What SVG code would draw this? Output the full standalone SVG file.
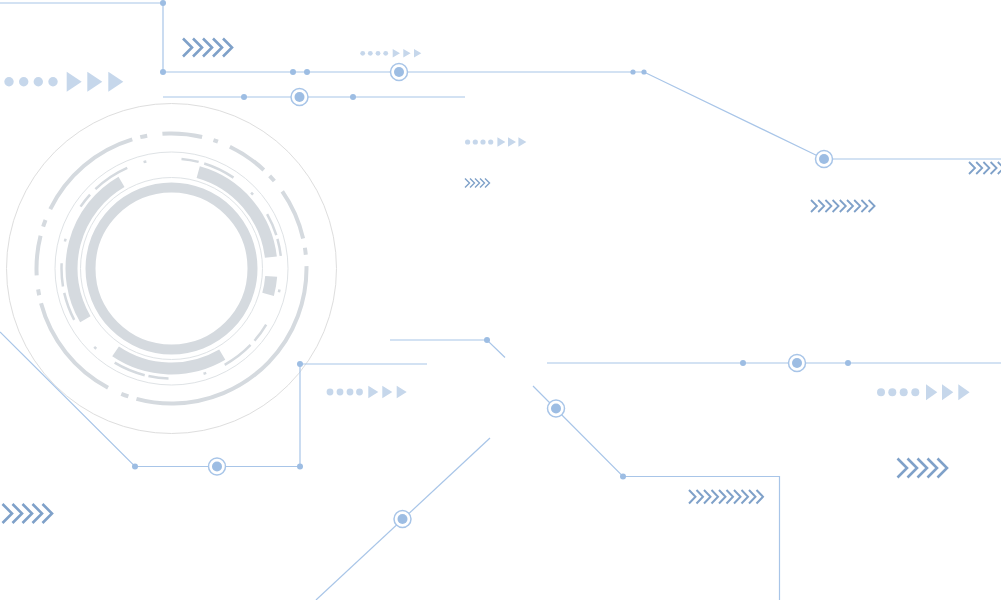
<svg xmlns="http://www.w3.org/2000/svg" xmlns:xlink="http://www.w3.org/1999/xlink" width="1001" height="600" viewBox="0 0 1001 600">
<style>
.ln{fill:none;stroke:#a8c5e8;stroke-width:1.2}
.dot{fill:#9dbde3}
.ringo{fill:#fff;stroke:#a8c5e8;stroke-width:1.5}
.chev{fill:none;stroke:#7fa1c9;stroke-linejoin:miter}
.pale{fill:#c6d7eb}
.gr{fill:none;stroke:#d5dadf}
.thin{fill:none;stroke:#dfe3e6;stroke-width:1}
</style>
<defs>
<g id="ringnode"><circle class="ringo" cx="0" cy="0" r="8.5"/><circle class="dot" cx="0" cy="0" r="5"/></g>
</defs>
<rect width="1001" height="600" fill="#fff"/>

<g id="dial">
<circle cx="171.5" cy="268.5" r="165" fill="none" stroke="#dedede" stroke-width="1"/>
<circle class="gr" cx="171.5" cy="268.5" r="135" stroke-width="4" transform="rotate(-1 171.5 268.5)" stroke-dasharray="249.76 8.48 7.54 14.61 110.74 8.25 5.89 14.14 40.06 9.42 7.07 11.78 110.74 8.25 7.07 15.32 40.06 11.78 4.71 12.96 41.23 8.25 7.07 12.96 51.84 9.42 7.07 11.78"/>
<circle class="thin" cx="171.5" cy="268.5" r="116.5"/>
<circle class="gr" cx="171.5" cy="268.5" r="110" stroke-width="2.5" stroke-dasharray="0 21.12 2.88 34.75 19.97 5.76 32.64 20.16 2.88 35.52 20.16 3.84 32.64 23.04 2.88 33.6 28.8 6.53 23.42 21.89 2.88 35.52 15.36 7.68 38.4 17.28 2.88 35.52 17.28 5.76 32.64 23.04 2.88 24 23.04 3.84 17.28 13.44"/>
<g class="gr" stroke-width="12">
<path d="M85.34 319.25A100 100 0 0 1 121.5 181.9"/>
<path d="M198.22 172.14A100 100 0 0 1 270.86 257.18"/>
<path d="M271.19 276.35A100 100 0 0 1 268.09 294.38"/>
<path d="M222.25 354.66A100 100 0 0 1 115.58 351.4"/>
</g>
<circle class="thin" cx="171.5" cy="268.5" r="91"/>
<circle class="gr" cx="171.5" cy="268.5" r="81" stroke-width="10"/>
</g>

<g id="connectors">
<path class="ln" d="M0 3H163V72H644L824 159H1001"/>
<path class="ln" d="M163 97H465"/>
<path class="ln" d="M547 363H1001"/>
<path class="ln" d="M390 340H487L505 357.5"/>
<path class="ln" d="M533 386L623 476.5H779.5V600"/>
<path class="ln" d="M490 438L316 600"/>
<path class="ln" d="M0 332L135 466.5H300V364H427"/>
</g>

<g id="junctions" class="dot">
<circle cx="163" cy="3" r="3"/>
<circle cx="163" cy="72" r="3"/>
<circle cx="293" cy="72" r="3"/>
<circle cx="307" cy="72" r="3"/>
<circle cx="633" cy="72" r="2.6"/>
<circle cx="644" cy="72" r="2.6"/>
<circle cx="244" cy="97" r="3"/>
<circle cx="353" cy="97" r="3"/>
<circle cx="743" cy="363" r="3"/>
<circle cx="848" cy="363" r="3"/>
<circle cx="487" cy="340" r="3"/>
<circle cx="623" cy="476.5" r="3"/>
<circle cx="135" cy="466.5" r="3"/>
<circle cx="300" cy="466.5" r="3"/>
<circle cx="300" cy="364" r="3"/>
</g>

<g id="node-1"><use xlink:href="#ringnode" href="#ringnode" x="399" y="72"/></g>
<g id="node-2"><use xlink:href="#ringnode" href="#ringnode" x="299.5" y="97"/></g>
<g id="node-3"><use xlink:href="#ringnode" href="#ringnode" x="824" y="159"/></g>
<g id="node-4"><use xlink:href="#ringnode" href="#ringnode" x="797" y="363"/></g>
<g id="node-5"><use xlink:href="#ringnode" href="#ringnode" x="556" y="408.5"/></g>
<g id="node-6"><use xlink:href="#ringnode" href="#ringnode" x="402.5" y="519"/></g>
<g id="node-7"><use xlink:href="#ringnode" href="#ringnode" x="217" y="466.5"/></g>

<g id="chevrons" class="chev">
<path stroke-width="2.6" d="M183 38.5l9 9l-9 9M193 38.5l9 9l-9 9M203 38.5l9 9l-9 9M213 38.5l9 9l-9 9M223 38.5l9 9l-9 9"/>
<path stroke-width="1.4" d="M465 178.5l4.5 4.5l-4.5 4.5M470 178.5l4.5 4.5l-4.5 4.5M475 178.5l4.5 4.5l-4.5 4.5M480 178.5l4.5 4.5l-4.5 4.5M485 178.5l4.5 4.5l-4.5 4.5"/>
<path stroke-width="1.8" d="M811 200l6 6l-6 6M818.2 200l6 6l-6 6M825.4 200l6 6l-6 6M832.6 200l6 6l-6 6M839.8 200l6 6l-6 6M847 200l6 6l-6 6M854.2 200l6 6l-6 6M861.4 200l6 6l-6 6M868.6 200l6 6l-6 6"/>
<path stroke-width="1.8" d="M969 162l6 6l-6 6M976.2 162l6 6l-6 6M983.4 162l6 6l-6 6M990.6 162l6 6l-6 6M997.8 162l6 6l-6 6"/>
<path stroke-width="2" d="M689 490l6.5 6.75l-6.5 6.75M696.5 490l6.5 6.75l-6.5 6.75M704 490l6.5 6.75l-6.5 6.75M711.5 490l6.5 6.75l-6.5 6.75M719 490l6.5 6.75l-6.5 6.75M726.5 490l6.5 6.75l-6.5 6.75M734 490l6.5 6.75l-6.5 6.75M741.5 490l6.5 6.75l-6.5 6.75M749 490l6.5 6.75l-6.5 6.75M756.5 490l6.5 6.75l-6.5 6.75"/>
<path stroke-width="2.6" d="M897.5 458.5l9.5 9.5l-9.5 9.5M907.5 458.5l9.5 9.5l-9.5 9.5M917.5 458.5l9.5 9.5l-9.5 9.5M927.5 458.5l9.5 9.5l-9.5 9.5M937.5 458.5l9.5 9.5l-9.5 9.5"/>
<path stroke-width="2.6" d="M2.5 504l9.5 9.5l-9.5 9.5M12.5 504l9.5 9.5l-9.5 9.5M22.5 504l9.5 9.5l-9.5 9.5M32.5 504l9.5 9.5l-9.5 9.5M42.5 504l9.5 9.5l-9.5 9.5"/>
</g>

<g id="pointers" class="pale">
<g id="ptr-left">
<circle cx="9" cy="81.7" r="4.7"/><circle cx="23.7" cy="81.7" r="4.7"/><circle cx="38.3" cy="81.7" r="4.7"/><circle cx="53" cy="81.7" r="4.7"/>
<path d="M66.7 71.7L81.7 81.7L66.7 91.7ZM87.3 71.7L102.3 81.7L87.3 91.7ZM108.3 71.7L123.3 81.7L108.3 91.7Z"/>
</g>
<g id="ptr-top">
<circle cx="362.7" cy="53.3" r="2.4"/><circle cx="370.3" cy="53.3" r="2.4"/><circle cx="378" cy="53.3" r="2.4"/><circle cx="385.7" cy="53.3" r="2.4"/>
<path d="M392.7 49L400 53.3L392.7 57.6ZM403.3 49L410.6 53.3L403.3 57.6ZM414 49L421.3 53.3L414 57.6Z"/>
</g>
<g id="ptr-mid">
<circle cx="467.6" cy="142" r="2.6"/><circle cx="475.3" cy="142" r="2.6"/><circle cx="483" cy="142" r="2.6"/><circle cx="490.7" cy="142" r="2.6"/>
<path d="M497.4 137.3L505.4 142L497.4 146.7ZM508 137.3L516 142L508 146.7ZM518.4 137.3L526.4 142L518.4 146.7Z"/>
</g>
<g id="ptr-right">
<circle cx="881" cy="392.3" r="4"/><circle cx="892.3" cy="392.3" r="4"/><circle cx="903.7" cy="392.3" r="4"/><circle cx="915.3" cy="392.3" r="4"/>
<path d="M926 384.3L937.3 392.3L926 400.3ZM942 384.3L953.3 392.3L942 400.3ZM958.3 384.3L969.6 392.3L958.3 400.3Z"/>
</g>
<g id="ptr-bottom">
<circle cx="330" cy="392" r="3.4"/><circle cx="340" cy="392" r="3.4"/><circle cx="350" cy="392" r="3.4"/><circle cx="359.5" cy="392" r="3.4"/>
<path d="M368.3 385.7L378.3 392L368.3 398.3ZM382.3 385.7L392.3 392L382.3 398.3ZM396.7 385.7L406.7 392L396.7 398.3Z"/>
</g>
</g>
</svg>
